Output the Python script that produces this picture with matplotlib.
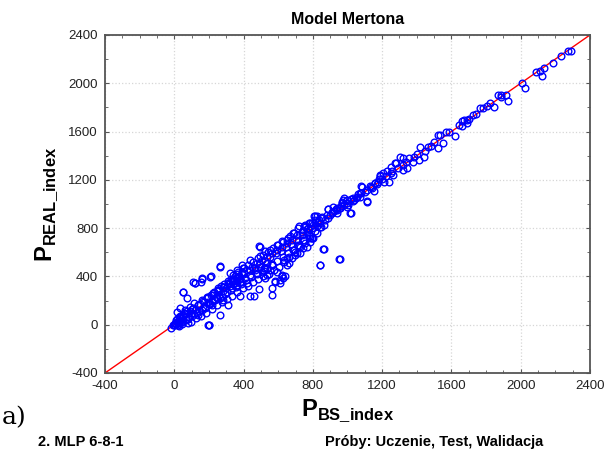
import numpy as np
import matplotlib
matplotlib.use('Agg')
import matplotlib.pyplot as plt
from matplotlib.ticker import MultipleLocator

plt.rcParams['font.family'] = ['Liberation Sans', 'DejaVu Sans']
plt.rcParams['mathtext.fontset'] = 'custom'
plt.rcParams['mathtext.rm'] = 'Liberation Sans'
plt.rcParams['mathtext.bf'] = 'Liberation Sans:bold'
plt.rcParams['axes.unicode_minus'] = False

# P_BS_index (x) vs P_REAL_index (y)
p_bs = [
    # upper part
    2293, 2274, 2231, 2189, 2133, 2123, 2090, 2110, 2009, 2023, 1924, 1913, 1888, 1868,
    1884, 1843, 1820, 1806, 1783, 1766, 1743, 1723, 1704, 1690, 1690, 1675, 1662, 1662,
    1646, 1621, 1588, 1569, 1549, 1536, 1520, 1520, 1482, 1463, 1439, 1416, 1414, 1385,
    1376, 1356, 1343, 1318, 1318, 1323, 1279, 1264, 1256, 1240, 1211, 1221, 1186, 1182,
    1173, 1153, 1134, 1115, 1080, 1080, 1072, 1047, 1034, 1018, 999, 979, 970, 956,
    941, 931, 912, 887, 864, 845, 815, 844, 864, 956,
    # 700 - 1300
    1303, 1274, 1249, 1230, 1207, 1188, 1178, 1159, 1140, 1111, 1111, 1082, 1072, 1053,
    1034, 1014, 1005, 995, 976, 966, 957, 938, 918, 909, 889, 880, 851, 822, 832, 812,
    803, 784, 774, 755, 745, 793,
    # dense band 300 - 850
    793, 774, 755, 735, 716, 707, 687, 678, 658, 649, 629, 620, 600, 591, 572, 562,
    543, 533, 514, 495, 504, 485, 476, 456, 447, 427, 418, 398, 389, 370, 360, 341, 331,
    841, 822, 803, 784, 764, 745, 726, 697, 678, 649, 620, 610, 629, 581, 591, 553,
    562, 524, 533, 495, 466, 437, 408, 379, 350,
    583, 564, 564, 622, 641, 612, 487, 439, 458, 381, 419, 525, 535, 313, 284, 265,
    203, 265, 210, 158, 120, 52, 255, 226,
    # near the origin
    -18, 4, 23, 42, 14, 33, 52, 62, 81, 100, 91, 115, 120, 139, 139, 158, 168, 187,
    196, 216, 225, 245, 254, 274, 283, 303, 312, 331, 341, 360, 370, 389, 389,
    52, 110, 154, 206, 196, 72,
    10, 20, 30, 50, 60, 80, 90, 100, 110, 130, 150, 160, 170, 180, 190, 200, 210, 220,
    230, 240, 250, 260, 270, 280, 290, 300, 310, 320, 330, 340, 350, 360, 370, 380,
    491, 264, 120, 158, 860, 841, 953, 200,
    0, 5, 10, 15, 20, 25, -5, 30, 40, 45, 50,
    # 350 - 850 upper and lower edges
    390, 404, 361, 323, 439, 496, 525, 554, 593, 622, 651, 670, 690, 719, 748, 776, 805, 834,
    709, 690, 719, 748, 786, 795, 661, 651, 632, 564, 516, 477, 516,
    # more of the band
    15, 25, 35, 45, 55, 65, 75, 85, 95, 105, 115, 125, 135, 145, 155, 165, 175, 185,
    195, 205, 215, 225, 235, 245, 255, 265, 275, 285, 295, 305, 315, 325, 335, 345,
    355, 365, 375, 385, 395, 405, 415, 425, 435, 445, 455, 465, 475, 485, 495, 505,
    515, 525, 535, 545, 555, 565, 575, 585, 595, 605, 615, 625, 635, 645, 655, 665,
    675, 685, 695, 705, 715, 725, 735, 745, 755, 765, 775, 785, 795, 810, 825, 840,
    850, 870, 890, 900, 920, 940, 960, 980, 1000, 1020, 1040, 1060, 1100, 1130, 1160,
    1200, 1250, 1290, 1340, 1400, 1450, 1500,
]
p_real = [
    2268, 2268, 2229, 2171, 2130, 2061, 2097, 2100, 2006, 1959, 1857, 1906, 1906, 1906,
    1884, 1807, 1835, 1813, 1793, 1793, 1744, 1733, 1708, 1669, 1697, 1697, 1688, 1642,
    1655, 1564, 1600, 1600, 1509, 1573, 1573, 1462, 1482, 1468, 1393, 1468, 1366, 1393,
    1344, 1385, 1302, 1385, 1283, 1319, 1338, 1242, 1277, 1186, 1186, 1228, 1242, 1206,
    1167, 1104, 1139, 1021, 1145, 1090, 1057, 1048, 1021, 924, 979, 1048, 1013, 966,
    924, 957, 924, 960, 828, 883, 902, 491, 626, 544,
    1387, 1337, 1309, 1276, 1254, 1232, 1185, 1171, 1130, 1116, 1019, 1143, 1089, 1061,
    1047, 923, 992, 1033, 1033, 1006, 965, 965, 978, 937, 957, 909, 895, 900, 853, 867,
    826, 846, 798, 826, 785, 721,
    840, 798, 812, 771, 798, 743, 757, 702, 716, 674, 688, 646, 660, 619, 633, 592,
    605, 564, 578, 646, 536, 550, 509, 522, 481, 495, 453, 467, 426, 439, 398, 412, 370,
    812, 757, 716, 688, 646, 633, 592, 578, 550, 495, 412, 370, 384, 357, 439, 453,
    495, 467, 509, 481, 453, 412, 384, 357, 343,
    359, 303, 248, 400, 400, 345, 295, 240, 240, 235, 345, 386, 414, 166, 207, 83,
    0, 483, 400, 386, 345, 270, 290, 262,
    -25, -2, 25, 53, 108, 136, 80, 122, 11, 94, 149, 177, 122, 80, 163, 205, 136, 232,
    191, 163, 260, 219, 287, 232, 315, 274, 343, 302, 370, 329, 398, 357, 439,
    274, 357, 351, 398, -2, 219,
    40, 10, 60, 30, 90, 50, 110, 70, 140, 100, 170, 120, 190, 150, 220, 170, 250, 200,
    270, 230, 300, 250, 320, 280, 340, 300, 360, 320, 380, 340, 400, 360, 420, 380,
    652, 481, 343, 376, 625, 495, 542, -2,
    0, 10, 5, 20, 0, 30, -5, 15, 40, 20, 60,
    497, 469, 455, 428, 538, 566, 607, 621, 662, 690, 704, 731, 759, 814, 814, 841, 897, 869,
    593, 621, 648, 704, 731, 717, 510, 552, 538, 497, 469, 428, 441,
    45, -10, 70, 5, 95, 35, 110, 60, 25, 130, 85, 55, 160, 115, 75, 195, 140, 100,
    230, 175, 130, 250, 205, 160, 280, 225, 185, 310, 255, 215, 335, 290, 240, 360,
    310, 270, 400, 340, 300, 430, 370, 320, 450, 395, 350, 470, 420, 380, 500, 440,
    400, 530, 470, 420, 560, 500, 450, 590, 530, 480, 610, 560, 520, 640, 590, 560,
    670, 620, 600, 700, 660, 640, 740, 700, 680, 770, 740, 720, 800, 780, 820, 840,
    810, 870, 880, 910, 940, 950, 980, 990, 1010, 1040, 1030, 1080, 1100, 1150, 1170,
    1210, 1260, 1300, 1350, 1410, 1440, 1510,
]
ticks = [-400, 0, 400, 800, 1200, 1600, 2000, 2400]

fig = plt.figure(figsize=(6.04, 4.59), dpi=100)
ax = fig.add_axes([0.1738, 0.1874, 0.803, 0.7364])

ax.plot([-400, 2400], [-400, 2400], color='red', linewidth=1.0, zorder=2)
ax.plot(p_bs, p_real, linestyle='none', marker='o', markersize=4.8,
        markerfacecolor='none', markeredgecolor='#0000ff', markeredgewidth=1.0, zorder=3)

ax.set_xlim(-400, 2400)
ax.set_ylim(-400, 2400)
ax.set_xticks(ticks)
ax.set_yticks(ticks)
ax.xaxis.set_minor_locator(MultipleLocator(100))
ax.yaxis.set_minor_locator(MultipleLocator(200))
ax.tick_params(which='both', direction='in', top=True, right=True, color='#555555')
ax.tick_params(which='major', length=3, labelsize=9.5, labelcolor='#222222', pad=5)
ax.tick_params(which='minor', length=2)
ax.grid(True, which='major', color='#d6d6d6', linestyle=':', linewidth=0.9)
for s in ax.spines.values():
    s.set_color('#555555')
    s.set_linewidth(1.3)

ax.set_title('Model Mertona', fontweight='bold', fontsize=11.5, pad=8)
ax.set_xlabel(r'$\mathbf{P}_{\mathbf{BS\_index}}$', fontsize=17, labelpad=4)
ax.set_ylabel(r'$\mathbf{P}_{\mathbf{REAL\_index}}$', fontsize=17, labelpad=6)

fig.text(0.003, 0.065, 'a)', fontsize=18, family='DejaVu Serif', va='bottom')
fig.text(0.063, 0.022, '2. MLP 6-8-1', fontsize=10.5, fontweight='bold', va='bottom')
fig.text(0.538, 0.022, 'Próby: Uczenie, Test, Walidacja', fontsize=10.5,
         fontweight='bold', va='bottom')

fig.savefig('out.png', dpi=100)
